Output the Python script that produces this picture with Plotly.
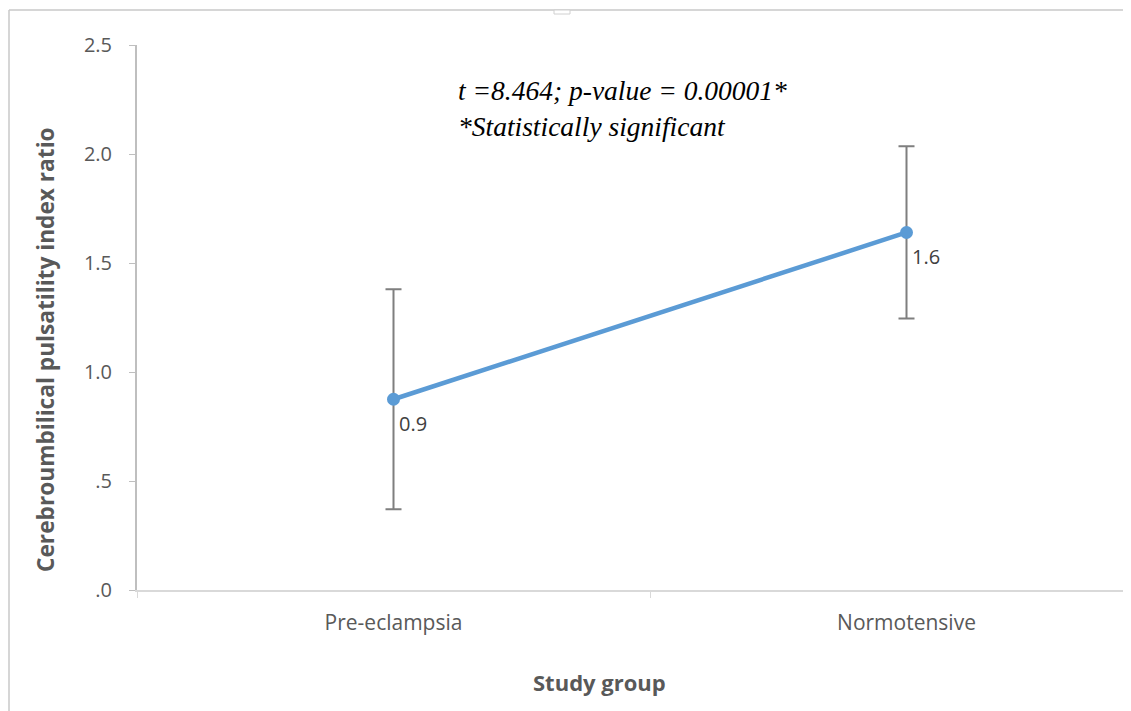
import plotly.graph_objects as go

categories = ["Pre-eclampsia", "Normotensive"]
means = [0.875, 1.64]
errors = [0.505, 0.395]
y_tick_vals = [0, 0.5, 1.0, 1.5, 2.0, 2.5]
y_tick_text = [".0", ".5", "1.0", "1.5", "2.0", "2.5"]
stat_line1 = "t =8.464; p-value = 0.00001*"
stat_line2 = "*Statistically significant"
x_title = "Study group"
y_title = "Cerebroumbilical pulsatility index ratio"

# page has an 8px body margin; figure coords = screen coords - 8
OFF = 8
W, H = 1131, 711
L, R, T = 137 - OFF, 0, 45 - OFF
B = H - (590 - OFF)
pw = W - L - R
ph = H - T - B

def px(xs):
    return (xs - OFF - L) / pw

def py(ys):
    return (H - B - (ys - OFF)) / ph

x_max = -0.5 + pw / 513.0

fig = go.Figure()
fig.add_trace(go.Scatter(
    x=categories, y=means, mode="lines+markers",
    line=dict(color="#5B9BD5", width=4.5),
    marker=dict(color="#5B9BD5", size=13),
    error_y=dict(type="data", array=errors, visible=True,
                 color="#7F7F7F", thickness=2, width=8),
    showlegend=False, hoverinfo="skip",
))

for c, v in zip(categories, means):
    fig.add_annotation(x=c, y=v, text=f"{v:.1f}", showarrow=False,
                       xanchor="left", yanchor="top", xshift=3, yshift=-9,
                       font=dict(family="Open Sans", size=20, color="#404040"))

fig.add_annotation(xref="paper", yref="paper",
                   x=px(456), y=py(73),
                   text=f"<i>{stat_line1}</i><br><i>{stat_line2}</i>",
                   showarrow=False, xanchor="left", yanchor="top", align="left",
                   font=dict(family="Liberation Serif", size=27.5, color="#000000"))

fig.add_annotation(xref="paper", yref="paper",
                   x=px(599), y=py(682),
                   text=f"<b>{x_title}</b>", showarrow=False,
                   xanchor="center", yanchor="middle",
                   font=dict(family="Open Sans", size=22, color="#595959"))

fig.add_annotation(xref="paper", yref="paper",
                   x=px(45), y=py(350),
                   text=f"<b>{y_title}</b>", showarrow=False, textangle=-90,
                   xanchor="center", yanchor="middle",
                   font=dict(family="Open Sans", size=22.7, color="#595959"))

# outer frame (top and left edges)
fx0 = px(9)
fy_top = py(10)
fy_bot = py(730)
fig.add_shape(type="line", xref="paper", yref="paper", x0=fx0, x1=1.02,
              y0=fy_top, y1=fy_top, line=dict(color="#C8C8C8", width=1.5))
fig.add_shape(type="line", xref="paper", yref="paper", x0=fx0, x1=fx0,
              y0=fy_top, y1=fy_bot, line=dict(color="#C8C8C8", width=1.5))
fig.add_shape(type="rect", xref="paper", yref="paper",
              x0=px(554), x1=px(570), y0=py(14), y1=fy_top,
              line=dict(color="#D0D0D0", width=1), fillcolor="white")

fig.update_layout(
    width=W, height=H,
    margin=dict(l=L, r=R, t=T, b=B, pad=0),
    paper_bgcolor="white", plot_bgcolor="white",
    xaxis=dict(type="category", range=[-0.5, x_max],
               showgrid=False, zeroline=False,
               showline=True, linecolor="#D9D9D9", linewidth=2,
               ticks="outside", tickson="boundaries", ticklen=6,
               tickcolor="#D9D9D9", tickwidth=1,
               ticklabelstandoff=13,
               tickfont=dict(family="Open Sans", size=21, color="#595959")),
    yaxis=dict(range=[0, 2.5], tickvals=y_tick_vals, ticktext=y_tick_text,
               showgrid=False, zeroline=False,
               showline=True, linecolor="#BFBFBF", linewidth=2,
               ticks="outside", ticklen=6, tickcolor="#BFBFBF", tickwidth=1,
               ticklabelstandoff=13,
               tickfont=dict(family="Open Sans", size=20, color="#595959")),
)

fig.write_html("out.html")
